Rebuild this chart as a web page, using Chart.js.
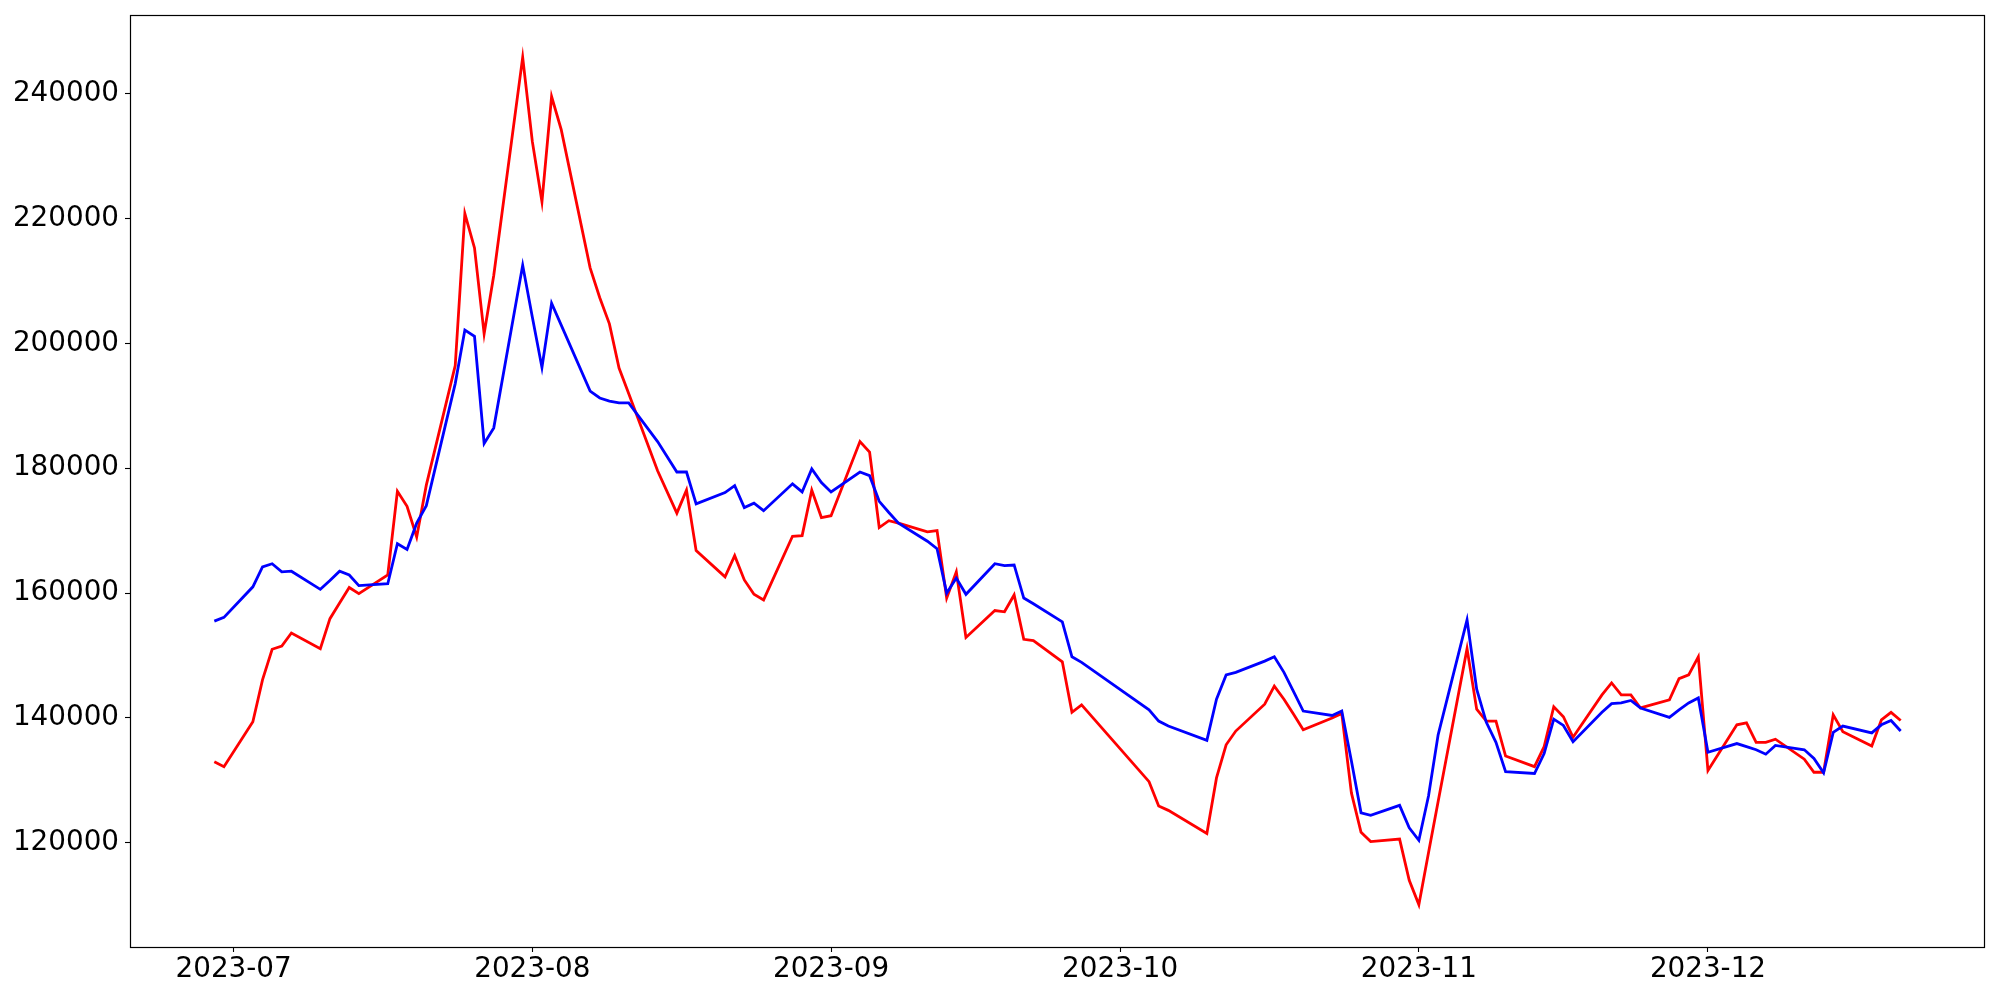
<!DOCTYPE html>
<html>
<head>
<meta charset="utf-8">
<script src="https://cdn.jsdelivr.net/npm/chart.js"></script>
<style>
  html, body { margin: 0; padding: 0; background: #ffffff; }
  #wrap { width: 2000px; height: 1000px; }
  canvas { display: block; }
</style>
</head>
<body>
<div id="wrap"><canvas id="c" width="2000" height="1000"></canvas></div>
<script>
// ---- data ----
const dates = [
  '2023-06-29','2023-06-30',
  '2023-07-03','2023-07-04','2023-07-05','2023-07-06','2023-07-07',
  '2023-07-10','2023-07-11','2023-07-12','2023-07-13','2023-07-14',
  '2023-07-17','2023-07-18','2023-07-19','2023-07-20','2023-07-21',
  '2023-07-24','2023-07-25','2023-07-26','2023-07-27','2023-07-28',
  '2023-07-31','2023-08-01','2023-08-02','2023-08-03','2023-08-04',
  '2023-08-07','2023-08-08','2023-08-09','2023-08-10','2023-08-11',
  '2023-08-14','2023-08-16','2023-08-17','2023-08-18',
  '2023-08-21','2023-08-22','2023-08-23','2023-08-24','2023-08-25',
  '2023-08-28','2023-08-29','2023-08-30','2023-08-31','2023-09-01',
  '2023-09-04','2023-09-05','2023-09-06','2023-09-07','2023-09-08',
  '2023-09-11','2023-09-12','2023-09-13','2023-09-14','2023-09-15',
  '2023-09-18','2023-09-19','2023-09-20','2023-09-21','2023-09-22',
  '2023-09-25','2023-09-26','2023-09-27',
  '2023-10-04','2023-10-05','2023-10-06',
  '2023-10-10','2023-10-11','2023-10-12','2023-10-13',
  '2023-10-16','2023-10-17','2023-10-18','2023-10-19','2023-10-20',
  '2023-10-23','2023-10-24','2023-10-25','2023-10-26','2023-10-27',
  '2023-10-30','2023-10-31','2023-11-01','2023-11-02','2023-11-03',
  '2023-11-06','2023-11-07','2023-11-08','2023-11-09','2023-11-10',
  '2023-11-13','2023-11-14','2023-11-15','2023-11-16','2023-11-17',
  '2023-11-20','2023-11-21','2023-11-22','2023-11-23','2023-11-24',
  '2023-11-27','2023-11-28','2023-11-29','2023-11-30','2023-12-01',
  '2023-12-04','2023-12-05','2023-12-06','2023-12-07','2023-12-08',
  '2023-12-11','2023-12-12','2023-12-13','2023-12-14','2023-12-15',
  '2023-12-18','2023-12-19','2023-12-20','2023-12-21'
];

const redValues = [
  133000,132200,
  139400,146100,151000,151500,153600,
  151100,155900,158400,160900,159900,
  162900,176290,173900,169000,177290,
  196440,220770,215280,201520,210900,
  245800,232340,222660,239520,234230,
  212090,207310,203120,196040,191950,
  179580,172800,176490,166800,
  162600,166000,162100,159800,158900,
  169100,169200,176490,172100,172400,
  184270,182580,170500,171600,171200,
  169800,170000,159200,163400,152900,
  157200,157000,159700,152600,152400,
  149000,140900,142100,
  129800,125900,125200,
  121500,130400,135700,137900,
  142200,145100,143000,140600,138100,
  140000,140700,128000,121700,120200,
  120600,114000,110100,118400,126600,
  151100,141400,139500,139500,133900,
  132200,135400,141800,140200,136900,
  143700,145600,143700,143700,141600,
  142900,146300,146900,149800,131600,
  138900,139200,136100,136100,136600,
  133400,131300,131300,140500,137800,
  135500,139700,140900,139600
];

const blueValues = [
  155500,156100,
  161000,164200,164700,163400,163500,
  160600,162000,163500,162900,161200,
  161500,167900,167000,171200,174000,
  193550,202120,201120,183970,186460,
  212490,204220,196140,206410,202920,
  192350,191250,190750,190450,190450,
  184270,179390,179390,174300,
  176100,177200,173700,174400,173200,
  177500,176200,179880,177700,176200,
  179390,178800,174700,172900,171200,
  168300,167100,160000,162400,159800,
  164700,164400,164500,159200,158300,
  155400,149800,148900,
  141300,139500,138700,
  136400,143000,146900,147300,
  149100,149800,147300,144200,141100,
  140400,141100,133100,124800,124400,
  126000,122400,120400,127500,137300,
  155700,144600,139300,136100,131400,
  131100,134300,139800,138800,136200,
  140900,142300,142400,142800,141600,
  140100,141300,142400,143200,134500,
  135900,135400,134900,134200,135600,
  134900,133500,131200,137700,138700,
  137600,138900,139600,137900
];

const xTickDates = ['2023-07-01','2023-08-01','2023-09-01','2023-10-01','2023-11-01','2023-12-01'];
const yTickValues = [120000,140000,160000,180000,200000,220000,240000];

// ---- helpers ----
const toMs = s => Date.parse(s + 'T00:00:00Z');
const xs = dates.map(toMs);
const xMinData = Math.min(...xs), xMaxData = Math.max(...xs);
const xPad = (xMaxData - xMinData) * 0.05;
const allVals = redValues.concat(blueValues);
const yMinData = Math.min(...allVals), yMaxData = Math.max(...allVals);
const yPad = (yMaxData - yMinData) * 0.05;

const fontSpec = { family: 'DejaVu Sans', size: 27.8 };

const frame = {
  id: 'frame',
  afterDraw(chart) {
    const a = chart.chartArea, ctx = chart.ctx;
    ctx.save();
    ctx.strokeStyle = '#000';
    ctx.lineWidth = 1.2;
    ctx.strokeRect(Math.round(a.left) + 0.5, Math.round(a.top) + 0.5,
                   Math.round(a.right - a.left) - 1, Math.round(a.bottom - a.top));
    ctx.restore();
  }
};

new Chart(document.getElementById('c'), {
  type: 'line',
  data: {
    datasets: [
      {
        label: 'blue',
        data: xs.map((x, i) => ({ x: x, y: blueValues[i] })),
        borderColor: '#0000ff',
        backgroundColor: '#0000ff',
        borderWidth: 2.8,
        pointRadius: 0,
        tension: 0,
        fill: false
      },
      {
        label: 'red',
        data: xs.map((x, i) => ({ x: x, y: redValues[i] })),
        borderColor: '#ff0000',
        backgroundColor: '#ff0000',
        borderWidth: 2.8,
        pointRadius: 0,
        tension: 0,
        fill: false
      }
    ]
  },
  options: {
    responsive: false,
    animation: false,
    devicePixelRatio: 1,
    layout: { padding: { left: 0, top: 15, right: 15, bottom: 0 } },
    plugins: { legend: { display: false }, tooltip: { enabled: false } },
    scales: {
      x: {
        type: 'linear',
        min: xMinData - xPad,
        max: xMaxData + xPad,
        border: { display: false },
        grid: { display: true, drawOnChartArea: false, drawTicks: true, tickLength: 5, tickWidth: 1.1, tickColor: '#000', color: '#000' },
        ticks: {
          autoSkip: false, maxRotation: 0, minRotation: 0, padding: 1,
          color: '#000', font: fontSpec,
          callback: v => { const d = new Date(v); return d.getUTCFullYear() + '-' + String(d.getUTCMonth() + 1).padStart(2, '0'); }
        },
        afterBuildTicks: s => { s.ticks = xTickDates.map(t => ({ value: toMs(t) })); },
        afterFit: s => { s.height = 53; s.paddingLeft = 0; s.paddingRight = 0; }
      },
      y: {
        type: 'linear',
        min: yMinData - yPad,
        max: yMaxData + yPad,
        border: { display: false },
        grid: { display: true, drawOnChartArea: false, drawTicks: true, tickLength: 5, tickWidth: 1.1, tickColor: '#000', color: '#000' },
        ticks: {
          autoSkip: false, padding: 6, color: '#000', font: fontSpec,
          callback: v => String(v)
        },
        afterBuildTicks: s => { s.ticks = yTickValues.map(v => ({ value: v })); },
        afterFit: s => { s.width = 130; s.paddingTop = 0; s.paddingBottom = 0; }
      }
    }
  },
  plugins: [frame]
});
</script>
</body>
</html>
